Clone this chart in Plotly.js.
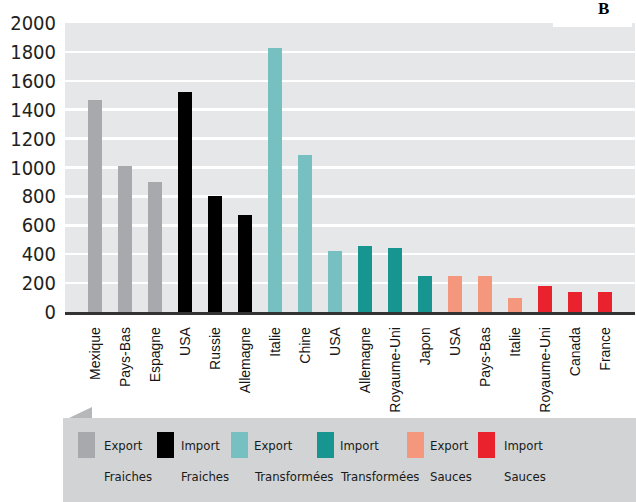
<!DOCTYPE html>
<html>
<head>
<meta charset="utf-8">
<script src="https://cdn.plot.ly/plotly-3.0.1.min.js"></script>
<style>
  html, body { margin: 0; padding: 0; background: #ffffff; }
  #chart { width: 636px; height: 502px; }
</style>
</head>
<body>
<div id="chart"></div>
<script>
// ---- data ----
const countries = ['Mexique', 'Pays-Bas', 'Espagne', 'USA', 'Russie', 'Allemagne',
  'Italie', 'Chine', 'USA', 'Allemagne', 'Royaume-Uni', 'Japon',
  'USA', 'Pays-Bas', 'Italie', 'Royaume-Uni', 'Canada', 'France'];
const values = [1470, 1010, 900, 1525, 800, 670,
  1825, 1085, 420, 460, 440, 250,
  250, 250, 100, 180, 140, 140];
const groupOf = [0, 0, 0, 1, 1, 1, 2, 2, 2, 3, 3, 3, 4, 4, 4, 5, 5, 5];
const groupLine1 = ['Export', 'Import', 'Export', 'Import', 'Export', 'Import'];
const groupLine2 = ['Fraiches', 'Fraiches', 'Transformées', 'Transformées', 'Sauces', 'Sauces'];
const groupColors = ['#a7a9ac', '#000000', '#76c0c1', '#179591', '#f5977c', '#e9222e'];
const yTickValues = [0, 200, 400, 600, 800, 1000, 1200, 1400, 1600, 1800, 2000];

// ---- layout helpers (pixel -> paper) ----
const W = 636, H = 502;
const M = { l: 65, r: 1, t: 23, b: 190 };
const PW = W - M.l - M.r, PH = H - M.t - M.b;
const px = p => (p - M.l) / PW;
const py = p => (H - M.b - p) / PH;

const COND = '"DejaVu Sans Condensed", "Liberation Sans Narrow", sans-serif';

// ---- traces: one per group ----
const idx = countries.map((_, i) => i);
const traces = groupLine1.map((l1, g) => {
  const members = idx.filter(i => groupOf[i] === g);
  return {
    type: 'bar',
    name: l1 + ' ' + groupLine2[g],
    x: members,
    y: members.map(i => values[i]),
    width: 0.45,
    marker: { color: groupColors[g], line: { width: 0 } },
    showlegend: false,
    hoverinfo: 'y'
  };
});

// ---- custom legend (swatches + two-line labels) ----
const legendSwatchLeft = [78, 157, 231, 317, 407, 478];
const legendTextLeft = [102, 179, 252, 338, 428, 502];
const shapes = [
  { type: 'rect', xref: 'paper', yref: 'paper', layer: 'below',
    x0: px(63), x1: px(637), y0: py(418), y1: py(503),
    fillcolor: '#d1d3d4', line: { width: 0 } },
  { type: 'path', xref: 'paper', yref: 'paper', layer: 'below',
    path: `M ${px(69)} ${py(418)} L ${px(92)} ${py(407)} L ${px(92)} ${py(418)} Z`,
    fillcolor: '#b5b7b9', line: { width: 0 } },
  { type: 'rect', xref: 'paper', yref: 'paper', layer: 'above',
    x0: px(553), x1: px(632), y0: py(27), y1: py(-2),
    fillcolor: '#ffffff', line: { width: 0 } }
];
const annotations = [];
groupColors.forEach((c, g) => {
  shapes.push({ type: 'rect', xref: 'paper', yref: 'paper', layer: 'above',
    x0: px(legendSwatchLeft[g]), x1: px(legendSwatchLeft[g] + 17),
    y0: py(458), y1: py(432), fillcolor: c, line: { width: 0 } });
  annotations.push({ xref: 'paper', yref: 'paper', x: px(legendTextLeft[g]), y: py(445),
    xanchor: 'left', yanchor: 'middle', showarrow: false, text: groupLine1[g],
    font: { family: COND, size: 13, color: '#1a1a1a' } });
  annotations.push({ xref: 'paper', yref: 'paper', x: px(legendTextLeft[g]), y: py(476),
    xanchor: 'left', yanchor: 'middle', showarrow: false, text: groupLine2[g],
    font: { family: COND, size: 13, color: '#1a1a1a' } });
});
annotations.push({ xref: 'paper', yref: 'paper', x: px(603), y: py(9),
  xanchor: 'center', yanchor: 'middle', showarrow: false, text: '<b>B</b>',
  font: { family: '"Liberation Serif", "DejaVu Serif", serif', size: 17, color: '#000000' } });

const layout = {
  width: W, height: H,
  margin: M,
  paper_bgcolor: '#ffffff',
  plot_bgcolor: '#e6e7e8',
  showlegend: false,
  bargap: 0,
  xaxis: {
    range: [-1, countries.length],
    tickmode: 'array',
    tickvals: idx,
    ticktext: countries,
    tickangle: -90,
    ticks: '',
    ticklabelstandoff: 7,
    showgrid: false,
    zeroline: false,
    showline: true,
    linecolor: '#333333',
    linewidth: 2.5,
    tickfont: { family: '"Liberation Sans", Arial, sans-serif', size: 14, color: '#151515' },
    fixedrange: true
  },
  yaxis: {
    range: [0, 2000],
    tickmode: 'array',
    tickvals: yTickValues,
    ticktext: yTickValues.map(String),
    ticks: '',
    ticklabelstandoff: 8,
    showgrid: true,
    gridcolor: '#ffffff',
    gridwidth: 2.5,
    zeroline: false,
    showline: false,
    tickfont: { family: COND, size: 20, color: '#231f20' },
    fixedrange: true
  },
  shapes: shapes,
  annotations: annotations
};

Plotly.newPlot('chart', traces, layout, { displayModeBar: false, staticPlot: true });
</script>
</body>
</html>
